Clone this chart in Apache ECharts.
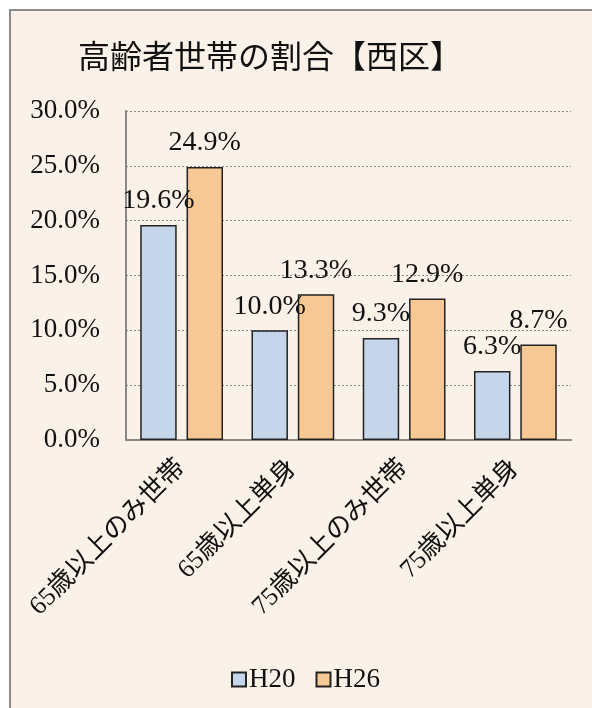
<!DOCTYPE html>
<html>
<head>
<meta charset="utf-8">
<script src="https://cdn.jsdelivr.net/npm/echarts@6/dist/echarts.min.js"></script>
<style>
  html, body { margin: 0; padding: 0; background: #fff; }
  #chart { width: 592px; height: 708px; }
</style>
</head>
<body>
<div id="chart"></div>
<script>
// 高齢者世帯の割合【西区】
const categories = ['65歳以上のみ世帯', '65歳以上単身', '75歳以上のみ世帯', '75歳以上単身'];
const h20 = [19.6, 10.0, 9.3, 6.3];
const h26 = [24.9, 13.3, 12.9, 8.7];
const seriesNames = ['H20', 'H26'];

const serif = '"Liberation Serif", "Noto Sans CJK JP", serif';

const chart = echarts.init(document.getElementById('chart'));

const barLabel = {
  show: true,
  position: 'top',
  distance: 10,
  fontFamily: serif,
  fontSize: 28,
  color: '#111',
  formatter: p => p.value.toFixed(1) + '%',
};

const option = {
  animation: false,
  backgroundColor: '#fff',
  graphic: [
    {
      type: 'rect',
      z: -10,
      shape: { x: 10, y: 10, width: 600, height: 720 },
      style: { fill: '#FAF1E8', stroke: '#8c8c8c', lineWidth: 2 },
    },
  ],
  title: {
    text: '高齢者世帯の割合【西区】',
    left: 73,
    top: 35,
    textStyle: {
      fontFamily: '"Noto Sans CJK JP", sans-serif',
      fontWeight: 'normal',
      fontSize: 32,
      color: '#111',
    },
  },
  legend: {
    left: 226,
    top: 661,
    itemWidth: 14,
    itemHeight: 14,
    itemGap: 20,
    icon: 'rect',
    textStyle: { fontFamily: serif, fontSize: 27, color: '#111', padding: [0, 0, 0, -2] },
    data: seriesNames,
  },
  grid: {
    left: 126,
    right: 21,
    top: 111,
    bottom: 268,
  },
  xAxis: {
    type: 'category',
    data: categories,
    axisLine: { lineStyle: { color: '#888', width: 2 } },
    axisTick: { show: false },
    axisLabel: {
      interval: 0,
      rotate: 45,
      margin: 24,
      fontFamily: serif,
      fontSize: 26,
      color: '#111',
    },
  },
  yAxis: {
    type: 'value',
    min: 0,
    max: 30,
    interval: 5,
    axisLine: { show: true, lineStyle: { color: '#888', width: 2 } },
    axisTick: { show: false },
    splitLine: { lineStyle: { color: '#888', type: [2, 2], width: 1 } },
    axisLabel: {
      margin: 26,
      fontFamily: serif,
      fontSize: 27,
      color: '#111',
      formatter: v => v.toFixed(1) + '%',
    },
  },
  series: [
    {
      name: seriesNames[0],
      type: 'bar',
      data: h20,
      barGap: '27%',
      barCategoryGap: '25.6%',
      itemStyle: { color: '#C5D6EB', borderColor: '#222', borderWidth: 1.5 },
      label: barLabel,
    },
    {
      name: seriesNames[1],
      type: 'bar',
      data: h26,
      itemStyle: { color: '#F6C994', borderColor: '#222', borderWidth: 1.5 },
      label: barLabel,
    },
  ],
};

chart.setOption(option);
</script>
</body>
</html>
